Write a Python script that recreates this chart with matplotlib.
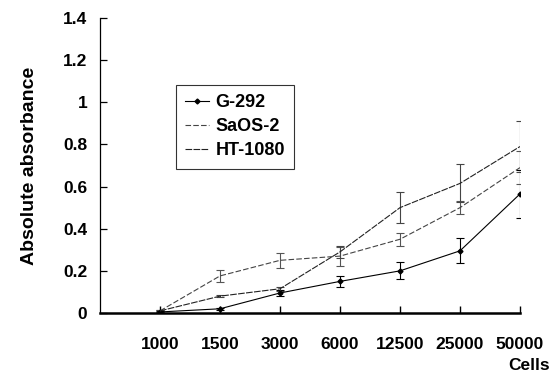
import matplotlib
matplotlib.use("Agg")
import matplotlib.pyplot as plt
import numpy as np

plt.rcParams['font.family'] = ['Liberation Sans', 'DejaVu Sans']

cells = ["1000", "1500", "3000", "6000", "12500", "25000", "50000"]
g292 = [0.005, 0.02, 0.095, 0.15, 0.20, 0.295, 0.565]
g292_err = [0.005, 0.005, 0.015, 0.025, 0.04, 0.06, 0.115]
saos2 = [0.01, 0.176, 0.25, 0.27, 0.35, 0.50, 0.69]
saos2_err = [0.005, 0.027, 0.037, 0.045, 0.03, 0.03, 0.08]
ht1080 = [0.01, 0.08, 0.115, 0.29, 0.50, 0.615, 0.79]
ht1080_err = [0.005, 0.005, 0.01, 0.03, 0.075, 0.09, 0.12]

fig = plt.figure(figsize=(5.6, 3.76), dpi=100)
ax = fig.add_axes([100/560, 1-313/376, 420/560, 295/376])

x = np.arange(1, len(cells) + 1)

eb = dict(fmt='none', capsize=3, elinewidth=0.8, capthick=0.8)
ax.errorbar(x, g292, yerr=g292_err, ecolor='black', **eb)
ax.errorbar(x, saos2, yerr=saos2_err, ecolor='#555555', **eb)
ax.errorbar(x, ht1080, yerr=ht1080_err, ecolor='#444444', **eb)

ax.plot(x, g292, color='black', lw=0.8, marker='D', ms=2.5, mfc='black',
        label='G-292')
ax.plot(x, saos2, color='#444444', lw=0.8, ls=(0, (5, 2)), label='SaOS-2')
ax.plot(x, ht1080, color='#222222', lw=0.8, ls=(0, (6, 1.2)), label='HT-1080')

ax.set_xlim(0, 7)
ax.set_ylim(0, 1.4)
ax.set_yticks(np.arange(0, 1.41, 0.2))
ax.set_yticklabels(['0', '0.2', '0.4', '0.6', '0.8', '1', '1.2', '1.4'])
ax.set_xticks(x)
ax.set_xticklabels(cells)

for s in ['top', 'right']:
    ax.spines[s].set_visible(False)
ax.spines['bottom'].set_linewidth(1.8)
ax.spines['left'].set_linewidth(0.9)

ax.tick_params(axis='x', direction='in', length=5, width=1.0, pad=17,
               labelsize=12.5)
ax.tick_params(axis='y', direction='in', length=5, width=0.9, pad=9,
               labelsize=12.5)
for lab in ax.get_xticklabels() + ax.get_yticklabels():
    lab.set_fontweight('bold')

ax.set_ylabel('Absolute absorbance', fontsize=14, fontweight='bold',
              labelpad=18)
fig.text(550/560, 1-366/376, 'Cells', ha='right', va='center',
         fontsize=12.5, fontweight='bold')

leg = ax.legend(loc='upper left', bbox_to_anchor=(76/420, 1-(85-18)/295),
                prop={'weight': 'bold', 'size': 13}, frameon=True,
                fancybox=False, shadow=False, handlelength=1.3,
                handletextpad=0.4, borderpad=0.5, labelspacing=0.4,
                borderaxespad=0)
leg.get_frame().set_edgecolor('black')
leg.get_frame().set_linewidth(0.8)

fig.savefig('out.png', dpi=100)
